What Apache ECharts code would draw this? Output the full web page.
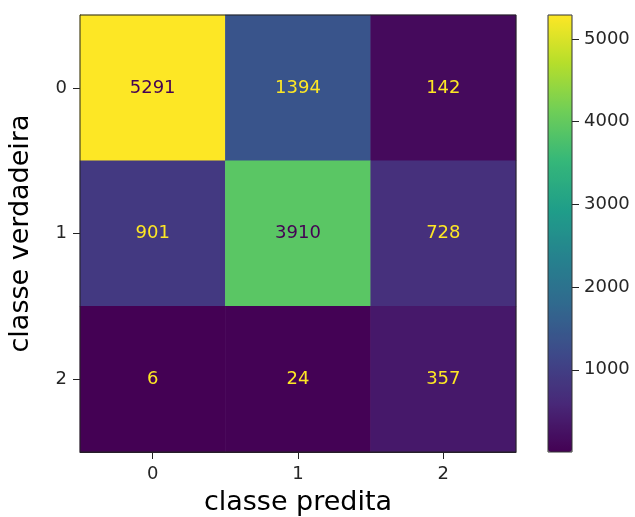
<!DOCTYPE html>
<html>
<head>
<meta charset="utf-8">
<script src="https://cdn.jsdelivr.net/npm/echarts@6/dist/echarts.min.js"></script>
<style>html,body{margin:0;padding:0;background:#fff}#c{width:635px;height:517px}</style>
</head>
<body>
<div id="c"></div>
<script>
var predictedClasses = ['0', '1', '2'];
var trueClasses = ['0', '1', '2'];
var row0 = [5291, 1394, 142];
var row1 = [901, 3910, 728];
var row2 = [6, 24, 357];
var colorbarTicks = [1000, 2000, 3000, 4000, 5000];
var viridis = ['#440154','#482878','#3e4989','#31688e','#26828e','#1f9e89','#35b779','#6ece58','#b5de2b','#fde725'];

var rows = [row0, row1, row2];
var all = row0.concat(row1, row2);
var vmin = Math.min.apply(null, all), vmax = Math.max.apply(null, all);
var thresh = (vmin + vmax) / 2;
var data = [];
rows.forEach(function (r, yi) {
  r.forEach(function (v, xi) {
    data.push({ value: [xi, yi, v], label: { color: v > thresh ? viridis[0] : viridis[viridis.length - 1] } });
  });
});

var font = 'DejaVu Sans';
var chart = echarts.init(document.getElementById('c'), null, { renderer: 'canvas' });
chart.setOption({
  animation: false,
  backgroundColor: '#fff',
  grid: [
    { left: 80, top: 15, width: 436, height: 437, show: true, borderColor: '#222', borderWidth: 1, z: 10, backgroundColor: 'transparent', containLabel: false, outerBoundsMode: 'none' },
    { left: 548, top: 15, width: 24, height: 437, show: true, borderColor: '#333', borderWidth: 1, z: 10, backgroundColor: 'transparent', containLabel: false, outerBoundsMode: 'none' }
  ],
  xAxis: [
    {
      gridIndex: 0, type: 'category', data: predictedClasses, position: 'bottom',
      name: 'classe predita', nameLocation: 'middle', nameGap: 37,
      nameTextStyle: { fontFamily: font, fontSize: 27, color: '#000' },
      axisLine: { show: true, lineStyle: { color: '#222', width: 1 } },
      axisTick: { show: true, alignWithLabel: true, length: 7, lineStyle: { color: '#222' } },
      axisLabel: { fontFamily: font, fontSize: 18, color: '#262626', margin: 13 },
      splitLine: { show: false }, splitArea: { show: false }
    },
    { gridIndex: 1, type: 'category', data: [''], show: false }
  ],
  yAxis: [
    {
      gridIndex: 0, type: 'category', data: trueClasses, inverse: true,
      name: 'classe verdadeira', nameLocation: 'middle', nameGap: 46, nameRotate: 90,
      nameTextStyle: { fontFamily: font, fontSize: 27, color: '#000' },
      axisLine: { show: true, lineStyle: { color: '#222', width: 1 } },
      axisTick: { show: true, alignWithLabel: true, length: 7, lineStyle: { color: '#222' } },
      axisLabel: { fontFamily: font, fontSize: 18, color: '#262626', margin: 13 },
      splitLine: { show: false }, splitArea: { show: false }
    },
    {
      gridIndex: 1, type: 'value', min: vmin, max: vmax, position: 'right',
      axisLine: { show: false },
      splitLine: { show: false },
      axisTick: { show: true, length: 7, customValues: colorbarTicks, lineStyle: { color: '#222' } },
      axisLabel: { show: true, customValues: colorbarTicks, fontFamily: font, fontSize: 18, color: '#262626', margin: 12, formatter: function (v) { return String(v); } }
    }
  ],
  visualMap: {
    type: 'continuous', min: vmin, max: vmax, seriesIndex: 0, dimension: 2,
    calculable: false, show: true, orient: 'vertical',
    left: 548, top: 15, itemWidth: 24, itemHeight: 437, padding: 0,
    text: null, showLabel: false,
    inRange: { color: viridis }
  },
  series: [{
    type: 'heatmap', xAxisIndex: 0, yAxisIndex: 0, data: data,
    label: { show: true, fontFamily: font, fontSize: 18, formatter: function (p) { return p.value[2]; } },
    itemStyle: { borderWidth: 0 },
    emphasis: { disabled: true }
  }]
});
</script>
</body>
</html>
